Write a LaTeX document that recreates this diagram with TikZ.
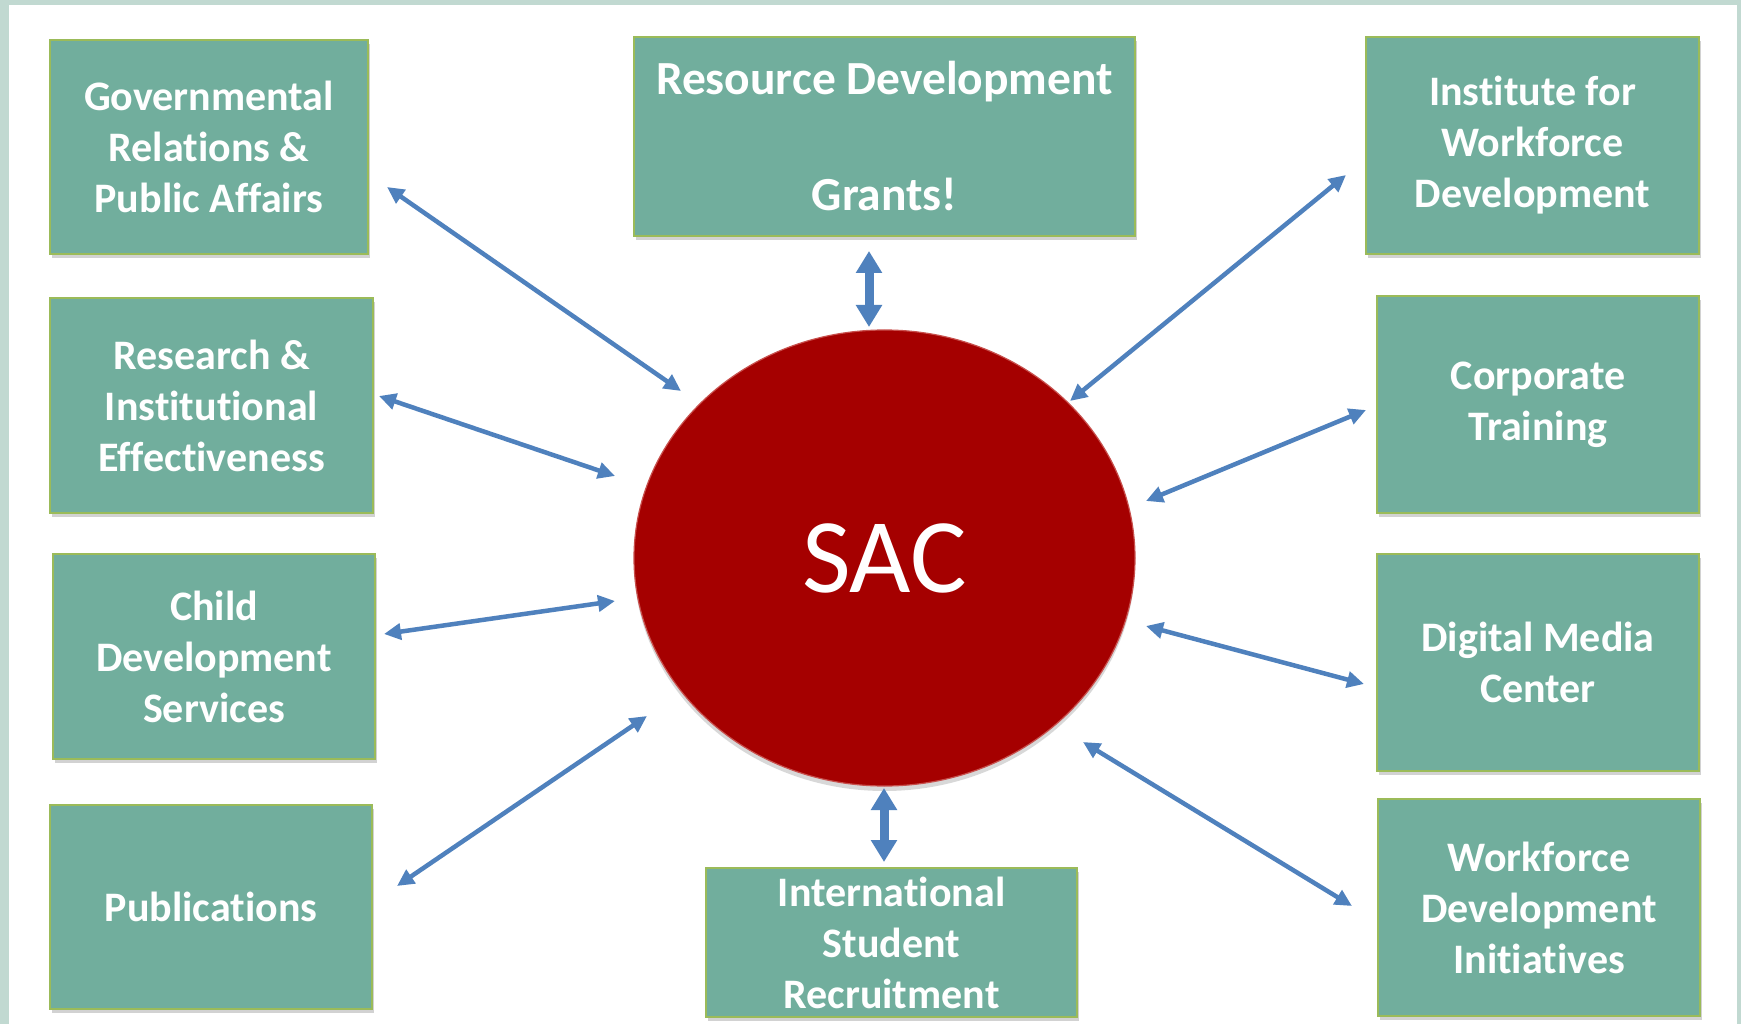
\documentclass[tikz,border=0pt]{standalone}
\usepackage{fontspec}
\setmainfont{Carlito}[Ligatures=NoCommon]
\usetikzlibrary{shapes.geometric,shadows,arrows.meta}
\definecolor{boxfill}{RGB}{113,174,157}
\definecolor{boxline}{RGB}{155,187,89}
\definecolor{sacfill}{RGB}{165,0,0}
\definecolor{sacline}{RGB}{200,80,77}
\definecolor{arrowblue}{RGB}{79,129,189}
\definecolor{framecol}{RGB}{193,217,209}
\begin{document}
\begin{tikzpicture}[x=1pt,y=-1pt,
  box/.style={rectangle, draw=boxline, line width=1.2pt, fill=boxfill, inner sep=0pt,
    align=center, text=white, font=\fontsize{42}{51}\selectfont\bfseries,
    drop shadow={shadow xshift=2pt,shadow yshift=-4pt,opacity=0.35}},
  sacnode/.style={ellipse, draw=sacline, line width=1.2pt, fill=sacfill, inner sep=0pt,
    text=white, font=\fontsize{106}{120}\selectfont,
    drop shadow={shadow xshift=0pt,shadow yshift=-5pt,opacity=0.3}},
  conn/.style={draw=arrowblue, line width=4.5pt,
    {Triangle[width=16pt,length=17pt]}-{Triangle[width=16pt,length=17pt]}},
  vconn/.style={draw=arrowblue, line width=9pt,
    {Triangle[width=25pt,length=22pt]}-{Triangle[width=25pt,length=22pt]}}
]
\useasboundingbox (0,0) rectangle (1741,1024);
\fill[framecol] (0,0) rectangle (1741,1024);
\fill[white] (9,5) rectangle (1737,1024);

% boxes
\node[box, minimum width=318pt, minimum height=214pt] (gov) at (209,147)
  {Governmental\\Relations \&\\Public Affairs};
\node[box, minimum width=501pt, minimum height=199pt,
      font=\fontsize{47.5}{58}\selectfont\bfseries] (res) at (884.5,136.5)
  {Resource Development\\[58pt]Grants!};
\node[box, minimum width=333pt, minimum height=217pt] (inst) at (1532.5,145.5)
  {Institute for\\Workforce\\Development};
\node[box, minimum width=323pt, minimum height=215pt] (rie) at (211.5,405.5)
  {Research \&\\Institutional\\Effectiveness};
\node[box, minimum width=322pt, minimum height=217pt] (corp) at (1538,404.5)
  {Corporate\\Training};
\node[box, minimum width=322pt, minimum height=205pt] (child) at (214,656.5)
  {Child\\Development\\Services};
\node[box, minimum width=322pt, minimum height=217pt] (dmc) at (1538,662.5)
  {Digital Media\\Center};
\node[box, minimum width=322pt, minimum height=204pt] (pub) at (211,907)
  {Publications};
\node[box, minimum width=371pt, minimum height=149pt] (isr) at (891.5,942.5)
  {International\\Student\\Recruitment};
\node[box, minimum width=322pt, minimum height=217pt] (wdi) at (1539,907.5)
  {Workforce\\Development\\Initiatives};

% centre
\node[sacnode, minimum width=501pt, minimum height=456pt] (sac) at (884.5,558) {SAC};

% connector ends
\coordinate (gov-a) at (387,187);   \coordinate (gov-b) at (681,391);
\coordinate (rie-a) at (379,396);   \coordinate (rie-b) at (615,476);
\coordinate (child-a) at (384,634); \coordinate (child-b) at (615,601);
\coordinate (pub-a) at (397,886);   \coordinate (pub-b) at (647,716);
\coordinate (res-a) at (869,251);   \coordinate (res-b) at (869,327);
\coordinate (isr-a) at (884,788);   \coordinate (isr-b) at (884,862);
\coordinate (inst-a) at (1346,175); \coordinate (inst-b) at (1070,401);
\coordinate (corp-a) at (1366,410); \coordinate (corp-b) at (1146,501);
\coordinate (dmc-a) at (1146,626);  \coordinate (dmc-b) at (1364,684);
\coordinate (wdi-a) at (1083,742);  \coordinate (wdi-b) at (1352,906);

\draw[conn] (gov-a) -- (gov-b);
\draw[conn] (rie-a) -- (rie-b);
\draw[conn] (child-a) -- (child-b);
\draw[conn] (pub-a) -- (pub-b);
\draw[vconn] (res-a) -- (res-b);
\draw[vconn] (isr-a) -- (isr-b);
\draw[conn] (inst-a) -- (inst-b);
\draw[conn] (corp-a) -- (corp-b);
\draw[conn] (dmc-a) -- (dmc-b);
\draw[conn] (wdi-a) -- (wdi-b);
\end{tikzpicture}
\end{document}
